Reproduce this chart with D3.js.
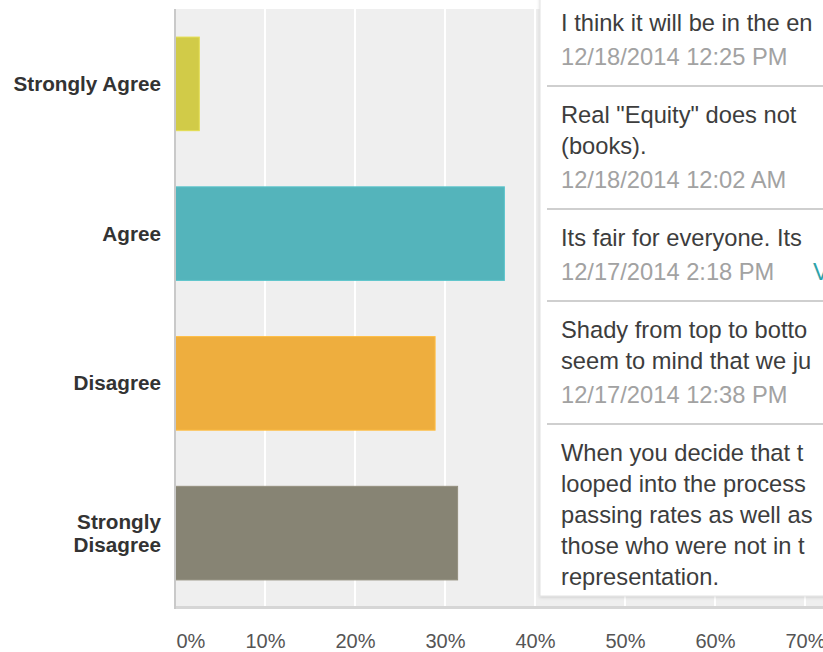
<!DOCTYPE html>
<html>
<head>
<meta charset="utf-8">
<script src="https://cdn.jsdelivr.net/npm/d3@7"></script>
<style>
  html, body { margin: 0; padding: 0; background: #fff; overflow: hidden; }
  svg { display: block; font-family: "Liberation Sans", Arial, Helvetica, sans-serif; }
</style>
</head>
<body>
<svg id="chart" width="823" height="652"></svg>
<script>
// Survey answers and their share of responses
const categories = ["Strongly Agree", "Agree", "Disagree", "Strongly Disagree"];
const shares = [0.027, 0.366, 0.289, 0.314];
const barColors = ["#d1cb48", "#54b4bb", "#eeae3e", "#878474"];
const gridValues = [0.1, 0.2, 0.3, 0.4, 0.5, 0.6, 0.7, 0.8];
const tickValues = [0, 0.1, 0.2, 0.3, 0.4, 0.5, 0.6, 0.7];

// Open-ended comments shown in the side panel (newest first)
const commentLines = [
  ["I think it will be in the en"],
  ["Real \"Equity\" does not", "(books)."],
  ["Its fair for everyone. Its"],
  ["Shady from top to botto", "seem to mind that we ju"],
  ["When you decide that t", "looped into the process", "passing rates as well as", "those who were not in t", "representation."]
];
const commentDates = [
  "12/18/2014 12:25 PM",
  "12/18/2014 12:02 AM",
  "12/17/2014 2:18 PM",
  "12/17/2014 12:38 PM",
  ""
];
const commentLinks = ["", "", "V", "", ""];

const W = 823, H = 652;
const plot = { left: 175, top: 9, bottom: 608 };

const svg = d3.select("#chart");

const x = d3.scaleLinear().domain([0, 1]).range([plot.left, plot.left + 900]);
const y = d3.scaleBand().domain(categories).range([plot.top, plot.bottom])
  .paddingInner(0.375).paddingOuter(0.1875);

// plot background
svg.append("rect")
  .attr("x", plot.left).attr("y", plot.top)
  .attr("width", W - plot.left).attr("height", plot.bottom - plot.top)
  .attr("fill", "#efefef");

// vertical grid lines
svg.append("g").selectAll("line")
  .data(gridValues)
  .join("line")
  .attr("x1", d => x(d)).attr("x2", d => x(d))
  .attr("y1", plot.top).attr("y2", plot.bottom)
  .attr("stroke", "#ffffff").attr("stroke-width", 2);

// bars
svg.append("g").selectAll("rect")
  .data(categories)
  .join("rect")
  .attr("x", x(0))
  .attr("y", d => y(d))
  .attr("width", (d, i) => x(shares[i]) - x(0))
  .attr("height", y.bandwidth())
  .attr("fill", (d, i) => barColors[i])
  .attr("stroke", (d, i) => d3.color(barColors[i]).brighter(0.25))
  .attr("stroke-width", 1);

// axis lines
svg.append("line")
  .attr("x1", plot.left).attr("x2", W)
  .attr("y1", plot.bottom - 0.5).attr("y2", plot.bottom - 0.5)
  .attr("stroke", "#d6d6d6").attr("stroke-width", 3);
svg.append("line")
  .attr("x1", plot.left).attr("x2", plot.left)
  .attr("y1", plot.top).attr("y2", plot.bottom + 1)
  .attr("stroke", "#c9c9c9").attr("stroke-width", 2);

// x axis labels
const xAxis = svg.append("g")
  .attr("transform", `translate(0,${plot.bottom})`)
  .call(d3.axisBottom(x).tickValues(tickValues).tickSize(0).tickPadding(0)
    .tickFormat(d3.format(".0%")));
xAxis.select(".domain").remove();
xAxis.selectAll("text")
  .attr("y", 40)
  .attr("dy", 0)
  .attr("fill", "#555")
  .style("font-size", "20px")
  .style("font-family", "\"Liberation Sans\", Arial, sans-serif");
xAxis.selectAll(".tick").filter(d => d === 0).select("text")
  .attr("text-anchor", "start").attr("x", 1);

// category labels, wrapped onto two lines when too wide
const labelG = svg.append("g");
const labelMaxWidth = 155;
categories.forEach(cat => {
  const t = labelG.append("text")
    .attr("x", 161)
    .attr("text-anchor", "end")
    .attr("fill", "#333")
    .style("font-size", "20.7px")
    .style("font-weight", "bold");
  t.text(cat);
  let lines = [cat];
  if (t.node().getComputedTextLength() > labelMaxWidth) {
    const words = cat.split(" ");
    lines = [words.slice(0, -1).join(" "), words[words.length - 1]];
  }
  t.text(null);
  const lh = 23;
  const cy = y(cat) + y.bandwidth() / 2;
  lines.forEach((ln, k) => {
    t.append("tspan")
      .attr("x", 161)
      .attr("y", cy + 7 + (k - (lines.length - 1) / 2) * lh)
      .text(ln);
  });
});

// comments panel overlay
const defs = svg.append("defs");
const shadow = defs.append("filter").attr("id", "panelShadow")
  .attr("x", "-5%").attr("y", "-5%").attr("width", "110%").attr("height", "110%");
shadow.append("feDropShadow")
  .attr("dx", 0).attr("dy", 1).attr("stdDeviation", 1.5)
  .attr("flood-color", "#000").attr("flood-opacity", 0.15);

const panel = { x: 540, top: -10, bottom: 596 };
defs.append("clipPath").attr("id", "panelClip")
  .append("rect")
  .attr("x", panel.x).attr("y", 0)
  .attr("width", W - panel.x).attr("height", panel.bottom - 2);

svg.append("rect")
  .attr("x", panel.x).attr("y", panel.top)
  .attr("width", 320).attr("height", panel.bottom - panel.top)
  .attr("fill", "#fff")
  .attr("stroke", "#e2e2e2").attr("stroke-width", 1)
  .attr("filter", "url(#panelShadow)");

const list = svg.append("g").attr("clip-path", "url(#panelClip)");
const lineH = 31;
const commentSize = "23.7px";
let itemTop = 86 - (61 + lineH * commentLines[0].length);
commentLines.forEach((lines, i) => {
  const h = 61 + lineH * lines.length;
  lines.forEach((ln, k) => {
    list.append("text")
      .attr("x", 561)
      .attr("y", itemTop + 37 + k * lineH)
      .attr("fill", "#3d3d3d")
      .style("font-size", commentSize)
      .text(ln);
  });
  const dateY = itemTop + 37 + (lines.length - 1) * lineH + 34;
  if (commentDates[i]) {
    list.append("text")
      .attr("x", 561).attr("y", dateY)
      .attr("fill", "#a2a2a2")
      .style("font-size", commentSize)
      .text(commentDates[i]);
  }
  if (commentLinks[i]) {
    list.append("text")
      .attr("x", 813).attr("y", dateY)
      .attr("fill", "#2fa3aa")
      .style("font-size", commentSize)
      .text(commentLinks[i]);
  }
  if (i < commentLines.length - 1) {
    list.append("line")
      .attr("x1", 547).attr("x2", W)
      .attr("y1", itemTop + h).attr("y2", itemTop + h)
      .attr("stroke", "#cfcfcf").attr("stroke-width", 2);
  }
  itemTop += h;
});
</script>
</body>
</html>
